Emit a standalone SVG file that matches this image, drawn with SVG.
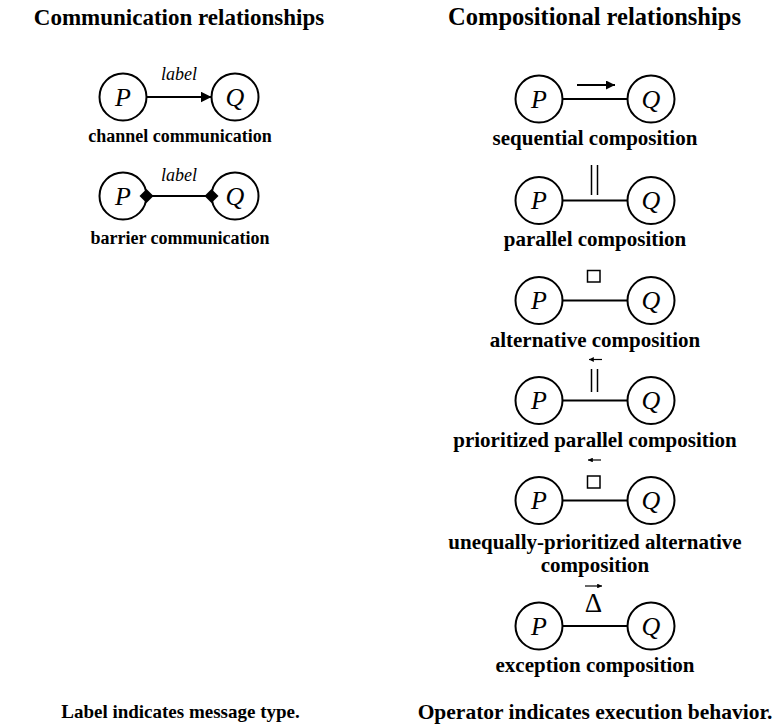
<svg xmlns="http://www.w3.org/2000/svg" width="774" height="728" viewBox="0 0 774 728">
<defs>
<marker id="ah" viewBox="0 0 10 10" refX="10" refY="5" markerWidth="5.5" markerHeight="5.5" orient="auto" markerUnits="strokeWidth"><path d="M0,0 L10,5 L0,10 z" fill="#000"/></marker>
<marker id="ah2" viewBox="0 0 10 10" refX="10" refY="5" markerWidth="6" markerHeight="4.5" orient="auto" markerUnits="strokeWidth"><path d="M0,0 L10,5 L0,10 z" fill="#000"/></marker>
<marker id="sa" viewBox="0 0 10 10" refX="10" refY="5" markerWidth="5" markerHeight="4" orient="auto" markerUnits="strokeWidth"><path d="M0,0 L10,5 L0,10 z" fill="#000"/></marker>
</defs>
<style>
.n{fill:#fff;stroke:#000;stroke-width:2}
.e{stroke:#000;stroke-width:2;fill:none}
.op{stroke:#000;stroke-width:1.5;fill:none}
.f{font-family:"Liberation Serif","Times New Roman",serif;text-anchor:middle;fill:#000}
.t{font-size:23px;font-weight:bold}
.t2{font-size:24.5px;font-weight:bold}
.c{font-size:21px;font-weight:bold}
.cl{font-size:18px;font-weight:bold}
.b1{font-size:19px;font-weight:bold}
.b2{font-size:21.5px;font-weight:bold}
.v{font-size:26px;font-style:italic}
.l{font-size:18px;font-style:italic}
.s{font-size:27px}
</style>
<rect width="774" height="728" fill="#fff"/>
<text class="f t" x="179" y="25">Communication relationships</text>
<text class="f t2" x="594.5" y="25">Compositional relationships</text>
<g id="channel"><circle class="n" cx="123" cy="97" r="23.5"/><circle class="n" cx="235" cy="97" r="23.5"/><text class="f v" x="123" y="105.5">P</text><text class="f v" x="235" y="105.5">Q</text><text class="f cl" x="180" y="142">channel communication</text></g>
<g id="barrier"><circle class="n" cx="123" cy="196" r="23.5"/><circle class="n" cx="235" cy="196" r="23.5"/><text class="f v" x="123" y="204.5">P</text><text class="f v" x="235" y="204.5">Q</text><text class="f cl" x="180" y="244">barrier communication</text></g>
<g id="sequential"><circle class="n" cx="539" cy="99" r="23.5"/><circle class="n" cx="651" cy="99" r="23.5"/><text class="f v" x="539" y="107.5">P</text><text class="f v" x="651" y="107.5">Q</text><text class="f c" x="595" y="145">sequential composition</text></g>
<g id="parallel"><circle class="n" cx="539" cy="200.5" r="23.5"/><circle class="n" cx="651" cy="200.5" r="23.5"/><text class="f v" x="539" y="209">P</text><text class="f v" x="651" y="209">Q</text><text class="f c" x="595" y="245.5">parallel composition</text></g>
<g id="alternative"><circle class="n" cx="539" cy="300.5" r="23.5"/><circle class="n" cx="651" cy="300.5" r="23.5"/><text class="f v" x="539" y="309">P</text><text class="f v" x="651" y="309">Q</text><text class="f c" x="595" y="346.5">alternative composition</text></g>
<g id="prioritized"><circle class="n" cx="539" cy="400.5" r="23.5"/><circle class="n" cx="651" cy="400.5" r="23.5"/><text class="f v" x="539" y="409">P</text><text class="f v" x="651" y="409">Q</text><text class="f c" x="595" y="446.5">prioritized parallel composition</text></g>
<g id="unequal"><circle class="n" cx="539" cy="500.5" r="23.5"/><circle class="n" cx="651" cy="500.5" r="23.5"/><text class="f v" x="539" y="509">P</text><text class="f v" x="651" y="509">Q</text><text class="f c" x="595" y="548.5">unequally-prioritized alternative</text><text class="f c" x="595" y="571.5">composition</text></g>
<g id="exception"><circle class="n" cx="539" cy="626" r="23.5"/><circle class="n" cx="651" cy="626" r="23.5"/><text class="f v" x="539" y="634.5">P</text><text class="f v" x="651" y="634.5">Q</text><text class="f c" x="595" y="671.5">exception composition</text></g>
<g id="connectors">
<line class="e" x1="146.5" y1="97" x2="211.5" y2="97" marker-end="url(#ah)"/>
<line class="e" x1="146.5" y1="196" x2="211.5" y2="196"/>
<path d="M139.5,196 L146.5,189 L153.5,196 L146.5,203 z" fill="#000"/>
<path d="M204.5,196 L211.5,189 L218.5,196 L211.5,203 z" fill="#000"/>
<line class="e" x1="562.5" y1="99" x2="627.5" y2="99"/>
<line class="e" x1="562.5" y1="200.5" x2="627.5" y2="200.5"/>
<line class="e" x1="562.5" y1="300.5" x2="627.5" y2="300.5"/>
<line class="e" x1="562.5" y1="400.5" x2="627.5" y2="400.5"/>
<line class="e" x1="562.5" y1="500.5" x2="627.5" y2="500.5"/>
<line class="e" x1="562.5" y1="626" x2="627.5" y2="626"/>
</g>
<g id="labels">
<text class="f l" x="179" y="80">label</text>
<text class="f l" x="179" y="181">label</text>
</g>
<g id="operators">
<line class="e" x1="577" y1="85" x2="615" y2="85" marker-end="url(#ah2)"/>
<line class="op" x1="591.5" y1="165" x2="591.5" y2="195"/>
<line class="op" x1="597.5" y1="165" x2="597.5" y2="195"/>
<rect class="op" x="587.5" y="270.5" width="12.5" height="11.5"/>
<line x1="602" y1="359.5" x2="589" y2="359.5" stroke="#000" stroke-width="1.2" marker-end="url(#sa)"/>
<line class="op" x1="591.5" y1="369" x2="591.5" y2="392"/>
<line class="op" x1="597.5" y1="369" x2="597.5" y2="392"/>
<line x1="601" y1="460" x2="588" y2="460" stroke="#000" stroke-width="1.2" marker-end="url(#sa)"/>
<rect class="op" x="587.5" y="476" width="12.5" height="12"/>
<line x1="585" y1="586" x2="602" y2="586" stroke="#000" stroke-width="1.2" marker-end="url(#sa)"/>
<text class="f s" x="593.5" y="612">Δ</text>
</g>
<text class="f b1" x="180.5" y="718">Label indicates message type.</text>
<text class="f b2" x="595" y="719">Operator indicates execution behavior.</text>
</svg>
